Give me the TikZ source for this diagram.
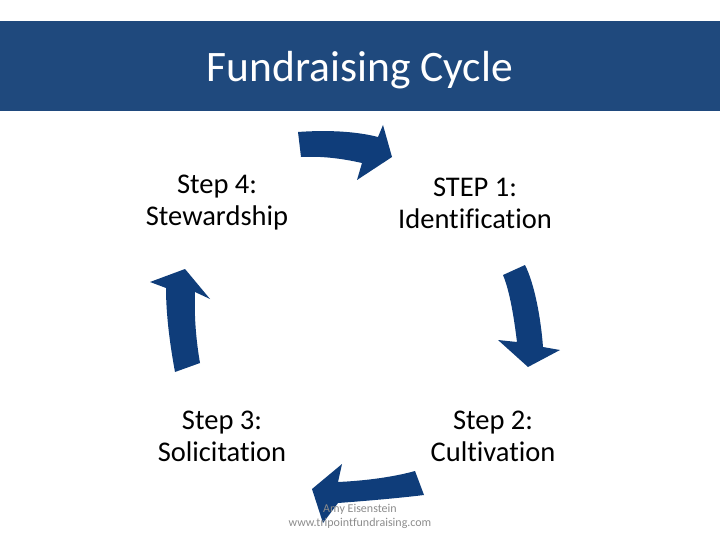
\documentclass[tikz,border=0pt]{standalone}
\usepackage{fontspec}
\setmainfont{Carlito}[Ligatures=NoCommon]
\usepackage{tikz}
\definecolor{banner}{HTML}{1F497D}
\definecolor{cycleblue}{HTML}{0F3D7A}
\definecolor{creditgray}{HTML}{8C8C8C}
\tikzset{
  steptext/.style={align=center, font=\fontsize{28.5}{32}\selectfont, text=black},
  credit/.style={align=center, font=\fontsize{12}{14}\selectfont, text=creditgray},
}

\begin{document}
\begin{tikzpicture}[x=1pt, y=-1pt]
  \useasboundingbox (0,0) rectangle (720,540);
  % title bar
  \fill[banner] (0,21) rectangle (720,111);
  \node[text=white, font=\fontsize{43.5}{50}\selectfont] (title) at (360,70) {Fundraising Cycle};

  % the four steps
  \node[steptext] (ident) at (475,203) {STEP 1:\\Identification};
  \node[steptext] (cult)  at (493,436) {Step 2:\\Cultivation};
  \node[steptext] (solic) at (222,436) {Step 3:\\Solicitation};
  \node[steptext] (stew)  at (217,203) {Step 4:\\Stewardship};

  % arrows round the cycle
  % 4 -> 1
  \fill[cycleblue] (298,132) .. controls (325,130) and (355,131) .. (378,137)
    -- (383,125) -- (392,157) -- (357,180) -- (362,163)
    .. controls (340,158) and (320,156) .. (301,157) -- cycle;
  % 1 -> 2
  \fill[cycleblue] (525,265) .. controls (535,285) and (541,320) .. (543,347)
    -- (560,350) -- (528,367) -- (498,340) -- (517,342)
    .. controls (514,318) and (510,292) .. (503,275) -- cycle;
  % 2 -> 3
  \fill[cycleblue] (415,471) .. controls (390,478) and (360,481) .. (338,482)
    -- (342,464) -- (312,489) -- (323,523) -- (338,503)
    .. controls (365,501) and (400,498) .. (424,495) -- cycle;
  % 3 -> 4
  \fill[cycleblue] (175,372) .. controls (170,345) and (166,315) .. (166,288)
    -- (150,282) -- (185,269) -- (210,299) -- (195,292)
    .. controls (194,315) and (196,340) .. (200,363) -- cycle;

  \node[credit] (author) at (360,516) {Amy Eisenstein\\www.tripointfundraising.com};
\end{tikzpicture}
\end{document}
